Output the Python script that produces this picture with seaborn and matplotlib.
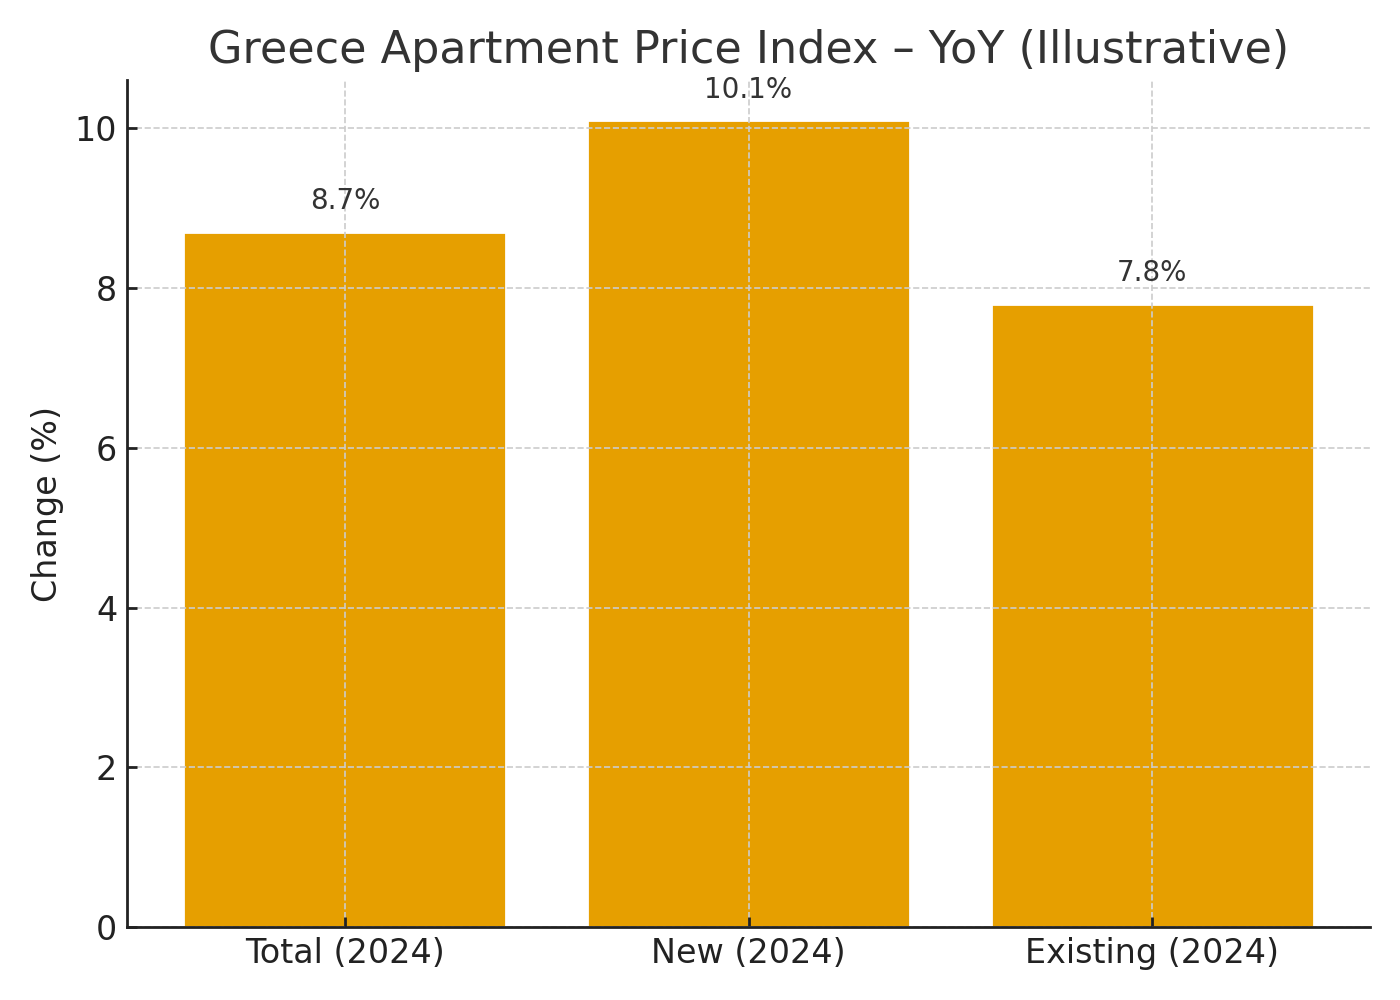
import matplotlib
matplotlib.use("Agg")
import pandas as pd
import seaborn as sns
from matplotlib import pyplot as plt

categories = ["Total (2024)", "New (2024)", "Existing (2024)"]
yoy_change = [8.7, 10.1, 7.8]

df = pd.DataFrame({"category": categories, "change": yoy_change})

sns.set_style("ticks")
plt.rcParams["font.family"] = ["DejaVu Sans"]
plt.rcParams["text.color"] = "#333333"

fig, ax = plt.subplots(figsize=(7, 5), dpi=200)
sns.barplot(data=df, x="category", y="change", color="#E69F00",
            saturation=1, width=0.8, ax=ax)
ax.set_xlim(-0.54, 2.54)
ax.set_ylim(0, max(yoy_change) * 1.05)

for i, v in enumerate(yoy_change):
    ax.annotate(f"{v}%", (i, v), xytext=(0, 6), textcoords="offset points",
                ha="center", va="bottom", fontsize=10, color="#333333")

# grid is drawn over the bars in the original
ax.grid(True, linestyle="--", color="#cccccc", linewidth=0.6)
ax.set_axisbelow(False)
for spine in ["top", "right"]:
    ax.spines[spine].set_visible(False)
for spine in ["left", "bottom"]:
    ax.spines[spine].set_color("#222222")
    ax.spines[spine].set_linewidth(1.0)
    ax.spines[spine].set_zorder(5)
ax.tick_params(labelsize=12, colors="#222222", direction="in", length=3.5, width=1)
ax.set_title("Greece Apartment Price Index – YoY (Illustrative)", fontsize=16,
             color="#333333")
ax.set_xlabel("")
ax.set_ylabel("Change (%)", fontsize=12, color="#222222")
plt.subplots_adjust(left=0.0907, right=0.9786, bottom=0.073, top=0.92)
plt.savefig("out.png")
